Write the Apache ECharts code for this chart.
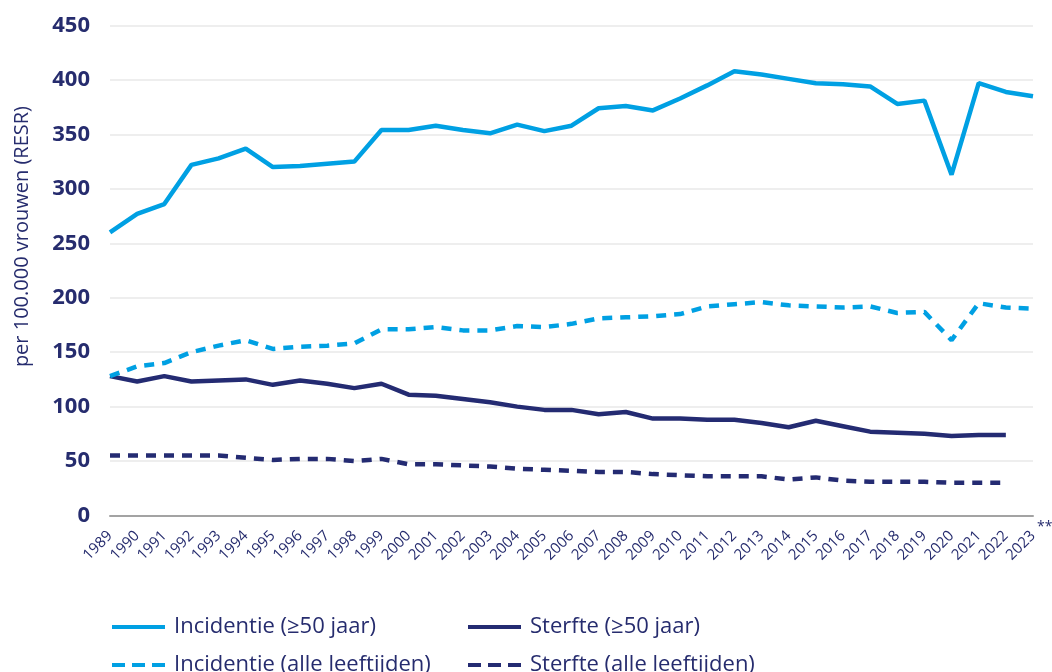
<!DOCTYPE html>
<html>
<head>
<meta charset="utf-8">
<script src="https://cdn.jsdelivr.net/npm/echarts@6/dist/echarts.min.js"></script>
<style>
  html, body { margin: 0; padding: 0; background: #fff; }
  #main { width: 1052px; height: 672px; }
</style>
</head>
<body>
<div id="main"></div>
<script>
var years = ['1989','1990','1991','1992','1993','1994','1995','1996','1997','1998','1999','2000','2001','2002','2003','2004','2005','2006','2007','2008','2009','2010','2011','2012','2013','2014','2015','2016','2017','2018','2019','2020','2021','2022','2023']

// incidentie >=50 jaar
var incid50 = [260,277,286,322,328,337,320,321,323,325,354,354,358,354,351,359,353,358,374,376,372,383,395,408,405,401,397,396,394,378,381,313,397,389,385]
// incidentie alle leeftijden
var incidAlle = [128,137,140,150,156,161,153,155,156,158,171,171,173,170,170,174,173,176,181,182,183,185,192,194,196,193,192,191,192,186,187,161,195,191,190]
// sterfte >=50 jaar
var sterfte50 = [128,123,128,123,124,125,120,124,121,117,121,111,110,107,104,100,97,97,93,95,89,89,88,88,85,81,87,82,77,76,75,73,74,74,null]
// sterfte alle leeftijden
var sterfteAlle = [55,55,55,55,55,53,51,52,52,50,52,47,47,46,45,43,42,41,40,40,38,37,36,36,36,33,35,32,31,31,31,30,30,30,null]

var yTicks = [0,50,100,150,200,250,300,350,400,450]

var lightBlue = '#00a0e3'
var navy = '#242b72'
var textNavy = '#262c6e'

var solidIcon = 'path://M0,0h53v4h-53z'
var dashIcon = 'path://M0,0h13v4h-13z M20,0h13v4h-13z M40,0h13v4h-13z'

var chart = echarts.init(document.getElementById('main'))

function legendItem(name, icon, left, top) {
  return {
    data: [{ name: name, icon: icon }],
    left: left,
    top: top,
    itemWidth: 53,
    itemHeight: 4,
    textStyle: {
      fontFamily: 'Open Sans',
      fontSize: 22,
      lineHeight: 26,
      color: textNavy,
      padding: [0, 0, 0, 4]
    }
  }
}

var option = {
  animation: false,
  grid: {
    left: 110,
    right: 19,
    top: 25.5,
    bottom: 156.5
  },
  xAxis: {
    type: 'category',
    data: years,
    boundaryGap: false,
    axisLine: { lineStyle: { color: '#a3a3a3', width: 2 } },
    axisTick: { show: false },
    axisLabel: {
      rotate: 45,
      margin: 18,
      interval: 0,
      fontFamily: 'Open Sans',
      fontSize: 15,
      color: textNavy
    }
  },
  yAxis: {
    type: 'value',
    min: yTicks[0],
    max: yTicks[yTicks.length - 1],
    interval: 50,
    axisLine: { show: false },
    axisTick: { show: false },
    splitLine: { lineStyle: { color: '#e8e8e8', width: 1.5 } },
    axisLabel: {
      margin: 20,
      fontFamily: 'Open Sans',
      fontWeight: 'bold',
      fontSize: 22,
      color: textNavy
    }
  },
  graphic: [
    {
      type: 'text',
      left: 12,
      top: 106,
      rotation: Math.PI / 2,
      style: {
        text: 'per 100.000 vrouwen (RESR)',
        fontFamily: 'Open Sans',
        fontSize: 20,
        fill: textNavy
      }
    },
    {
      type: 'text',
      left: 1037,
      top: 520,
      style: {
        text: '**',
        fontFamily: 'Open Sans',
        fontSize: 14,
        fill: textNavy
      }
    }
  ],
  legend: [
    legendItem('Incidentie (≥50 jaar)', solidIcon, 107, 609),
    legendItem('Sterfte (≥50 jaar)', solidIcon, 463, 609),
    legendItem('Incidentie (alle leeftijden)', dashIcon, 107, 647),
    legendItem('Sterfte (alle leeftijden)', dashIcon, 463, 647)
  ],
  series: [
    {
      name: 'Incidentie (≥50 jaar)',
      type: 'line',
      data: incid50,
      symbol: 'none',
      lineStyle: { color: lightBlue, width: 4.5 },
      itemStyle: { color: lightBlue }
    },
    {
      name: 'Sterfte (≥50 jaar)',
      type: 'line',
      data: sterfte50,
      symbol: 'none',
      lineStyle: { color: navy, width: 4.5 },
      itemStyle: { color: navy }
    },
    {
      name: 'Incidentie (alle leeftijden)',
      type: 'line',
      data: incidAlle,
      symbol: 'none',
      lineStyle: { color: lightBlue, width: 4.5, type: [10, 8] },
      itemStyle: { color: lightBlue }
    },
    {
      name: 'Sterfte (alle leeftijden)',
      type: 'line',
      data: sterfteAlle,
      symbol: 'none',
      lineStyle: { color: navy, width: 4.5, type: [10, 8] },
      itemStyle: { color: navy }
    }
  ]
}

chart.setOption(option)
</script>
</body>
</html>
